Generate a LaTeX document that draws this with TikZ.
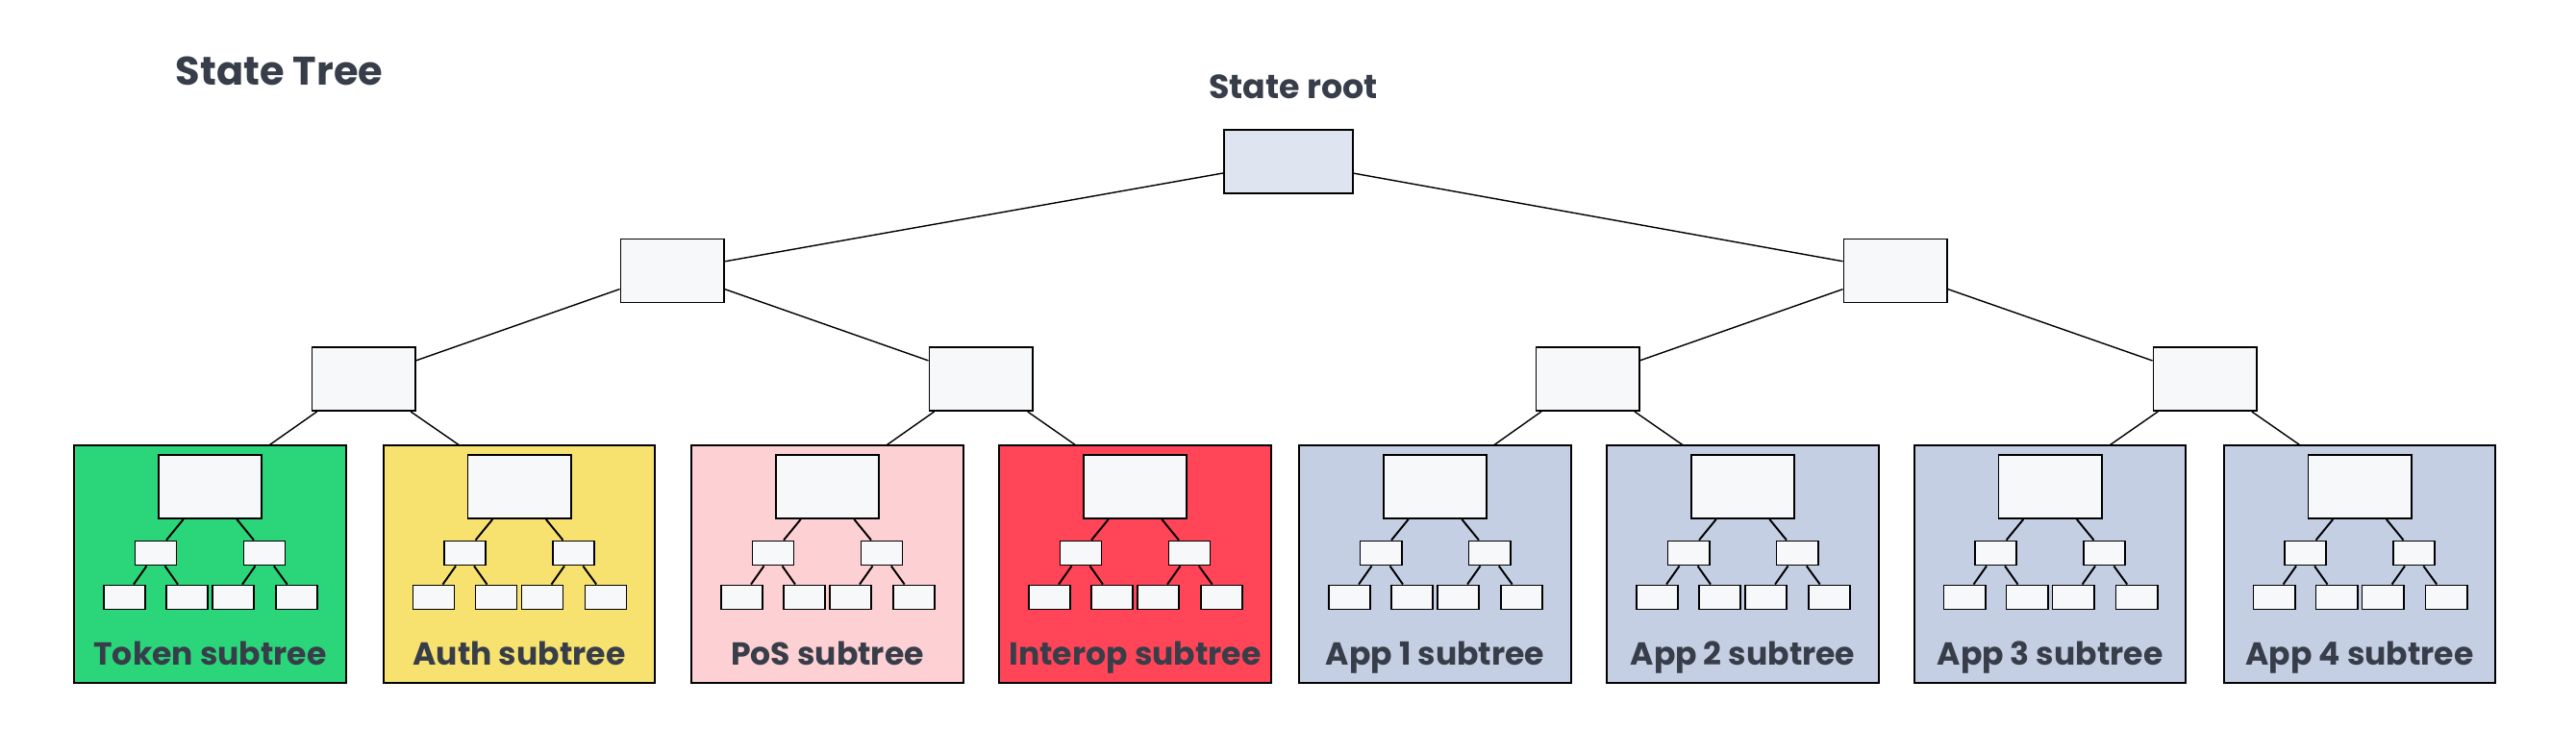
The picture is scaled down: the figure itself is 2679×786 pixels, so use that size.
\documentclass[tikz,border=0pt]{standalone}
\usepackage{fontspec}
\setmainfont{Poppins}
\usetikzlibrary{backgrounds}

\definecolor{nodefill}{HTML}{F7F8FA}
\definecolor{rootfill}{HTML}{DFE5F0}
\definecolor{txtgray}{HTML}{383E49}
\definecolor{tokgreen}{HTML}{2BD67B}
\definecolor{authyellow}{HTML}{F7E26F}
\definecolor{pospink}{HTML}{FDD0D3}
\definecolor{interred}{HTML}{FF4557}
\definecolor{appblue}{HTML}{C5CFE3}

\begin{document}
\begin{tikzpicture}[x=0.01cm,y=-0.01cm,line width=0.55pt,
    tnode/.style={draw,fill=nodefill,inner sep=0pt,minimum width=1.07cm,minimum height=0.66cm},
    rootnode/.style={tnode,fill=rootfill,minimum width=1.34cm},
    leaf/.style={tnode,minimum width=0.43cm,minimum height=0.25cm},
    subbox/.style={draw,inner sep=0pt,minimum width=2.82cm,minimum height=2.47cm},
    lbl/.style={text=txtgray,inner sep=0pt,font=\bfseries\fontsize{9.4}{11}\selectfont}]
    \useasboundingbox (0,0) rectangle (2679,786);
    \node[lbl,anchor=base west,font=\bfseries\fontsize{11.8}{14}\selectfont] (title) at (182,89) {State Tree};
    \node[lbl,anchor=base,font=\bfseries\fontsize{9.9}{12}\selectfont] (rootlab) at (1345,103) {State root};
    % upper tree
    \node[rootnode] (root) at (1340,168) {};
    \node[tnode] (l2a) at (699,281.5) {};
    \node[tnode] (l2b) at (1971,281.5) {};
    \foreach \x/\n in {378/l3a,1020/l3b,1651/l3c,2293/l3d} \node[tnode] (\n) at (\x,394) {};
    % subtrees
    \foreach \cx/\col/\lab [count=\i] in {218.5/tokgreen/Token subtree,540/authyellow/Auth subtree,
        860.5/pospink/PoS subtree,1180.5/interred/Interop subtree,1492.5/appblue/App 1 subtree,
        1812.5/appblue/App 2 subtree,2132/appblue/App 3 subtree,2454/appblue/App 4 subtree} {
        \node[subbox,fill=\col] (box\i) at (\cx,586.5) {};
        \node[tnode] (sr\i) at (\cx,506) {};
        \node[leaf] (ma\i) at (\cx-56.5,575) {};
        \node[leaf] (mb\i) at (\cx+56.5,575) {};
        \foreach \dx/\n in {-89/la,-24/lb,24/lc,90/ld} \node[leaf] (\n\i) at (\cx+\dx,621) {};
        \draw (sr\i) -- (ma\i) (sr\i) -- (mb\i) (ma\i) -- (la\i) (ma\i) -- (lb\i) (mb\i) -- (lc\i) (mb\i) -- (ld\i);
        \node[lbl,anchor=base] (lab\i) at (\cx,692) {\lab};
    }
    \begin{scope}[on background layer]
        \draw (root) -- (l2a) (root) -- (l2b) (l2a) -- (l3a) (l2a) -- (l3b) (l2b) -- (l3c) (l2b) -- (l3d);
        \foreach \p/\i in {l3a/1,l3a/2,l3b/3,l3b/4,l3c/5,l3c/6,l3d/7,l3d/8} \draw (\p) -- (sr\i);
    \end{scope}
\end{tikzpicture}
\end{document}
